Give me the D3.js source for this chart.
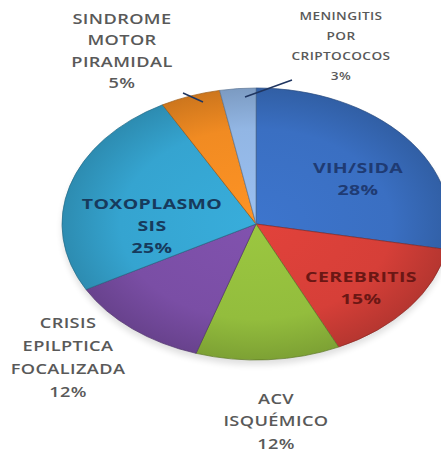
<!DOCTYPE html>
<html><head><meta charset="utf-8">
<script src="https://cdn.jsdelivr.net/npm/d3@7"></script>
<style>html,body{margin:0;padding:0;background:#fff;}svg{display:block;}</style>
</head><body>
<svg id="c" width="441" height="456"></svg>
<script>
// ---- data ----
const categories = ["VIH/SIDA","CEREBRITIS","ACV ISQUÉMICO","CRISIS EPILPTICA FOCALIZADA","TOXOPLASMOSIS","SINDROME MOTOR PIRAMIDAL","MENINGITIS POR CRIPTOCOCOS"];
const values = [28,15,12,12,25,5,3];
const labelLines = [["VIH/SIDA"],["CEREBRITIS"],["ACV","ISQUÉMICO"],["CRISIS","EPILPTICA","FOCALIZADA"],["TOXOPLASMO","SIS"],["SINDROME","MOTOR","PIRAMIDAL"],["MENINGITIS","POR","CRIPTOCOCOS"]];
const colors = ["#3a6fc2","#d63f38","#93bd3d","#7a4ea5","#35a4d0","#f18b22","#92b6e4"];

// ---- layout ----
const cx = 256, cy = 224, rx = 194, ry = 136;
const layout = [
  {x:358, y:173, inside:true, fill:"#1f3b73", size:15, dy:22},
  {x:361, y:282, inside:true, fill:"#6b1714", size:15, dy:22},
  {x:276, y:404, inside:false, fill:"#595959", size:14, dy:22.5},
  {x:68,  y:328, inside:false, fill:"#595959", size:14, dy:23},
  {x:152, y:209, inside:true, fill:"#173a5c", size:15, dy:22},
  {x:122, y:24,  inside:false, fill:"#595959", size:14, dy:21.5},
  {x:341, y:20,  inside:false, fill:"#595959", size:10.5, dy:20}
];
const stretch = 1.3;

const svg = d3.select("#c");
const defs = svg.append("defs");

colors.forEach((c, i) => {
  const g = defs.append("radialGradient").attr("id", "g" + i)
    .attr("gradientUnits", "userSpaceOnUse").attr("cx", 0).attr("cy", 0).attr("r", rx);
  const base = d3.color(c);
  g.append("stop").attr("offset", "0%").attr("stop-color", base.brighter(0.15));
  g.append("stop").attr("offset", "70%").attr("stop-color", base);
  g.append("stop").attr("offset", "100%").attr("stop-color", base.darker(0.45));
});
const sh = defs.append("filter").attr("id","sh").attr("x","-20%").attr("y","-20%").attr("width","140%").attr("height","140%");
sh.append("feGaussianBlur").attr("stdDeviation", 3);

const pie = d3.pie().sort(null).value(d => d);
const arcs = pie(values);
const arc = d3.arc().innerRadius(0).outerRadius(rx);

// soft shadow
svg.append("ellipse").attr("cx", cx).attr("cy", cy + 5).attr("rx", rx).attr("ry", ry)
  .attr("fill", "#000").attr("opacity", 0.12).attr("filter", "url(#sh)");

const pg = svg.append("g").attr("transform", `translate(${cx},${cy}) scale(1,${ry/rx})`);
pg.selectAll("path").data(arcs).join("path")
  .attr("d", arc)
  .attr("fill", (d, i) => `url(#g${i})`)
  .attr("stroke", (d, i) => d3.color(colors[i]).darker(1.2))
  .attr("stroke-width", 1)
  .attr("stroke-opacity", 0.7)
  .attr("vector-effect", "non-scaling-stroke");

// leader lines
const lead = d3.line();
const leaders = [
  {i:5, pts:[[183,93],[203,102]]},
  {i:6, pts:[[245,97],[292,80]]}
];
svg.selectAll("path.lead").data(leaders).join("path").attr("class","lead")
  .attr("d", d => lead(d.pts)).attr("stroke", "#1f3560").attr("stroke-width", 1.5).attr("fill", "none");

// labels
const fmt = v => v + "%";
arcs.forEach((a, i) => {
  const L = layout[i];
  const lines = labelLines[i].concat([fmt(values[i])]);
  const t = svg.append("text")
    .attr("transform", `translate(${L.x},0) scale(${stretch},1)`)
    .attr("text-anchor", "middle")
    .attr("font-family", "'Open Sans', 'DejaVu Sans', sans-serif")
    .attr("font-weight", L.inside ? 700 : 600)
    .attr("font-size", L.size)
    .attr("fill", L.fill)
    .attr("letter-spacing", 0.3);
  lines.forEach((ln, k) => {
    t.append("tspan").attr("x", 0).attr("y", L.y + k * L.dy).text(ln);
  });
});
</script>
</body></html>
